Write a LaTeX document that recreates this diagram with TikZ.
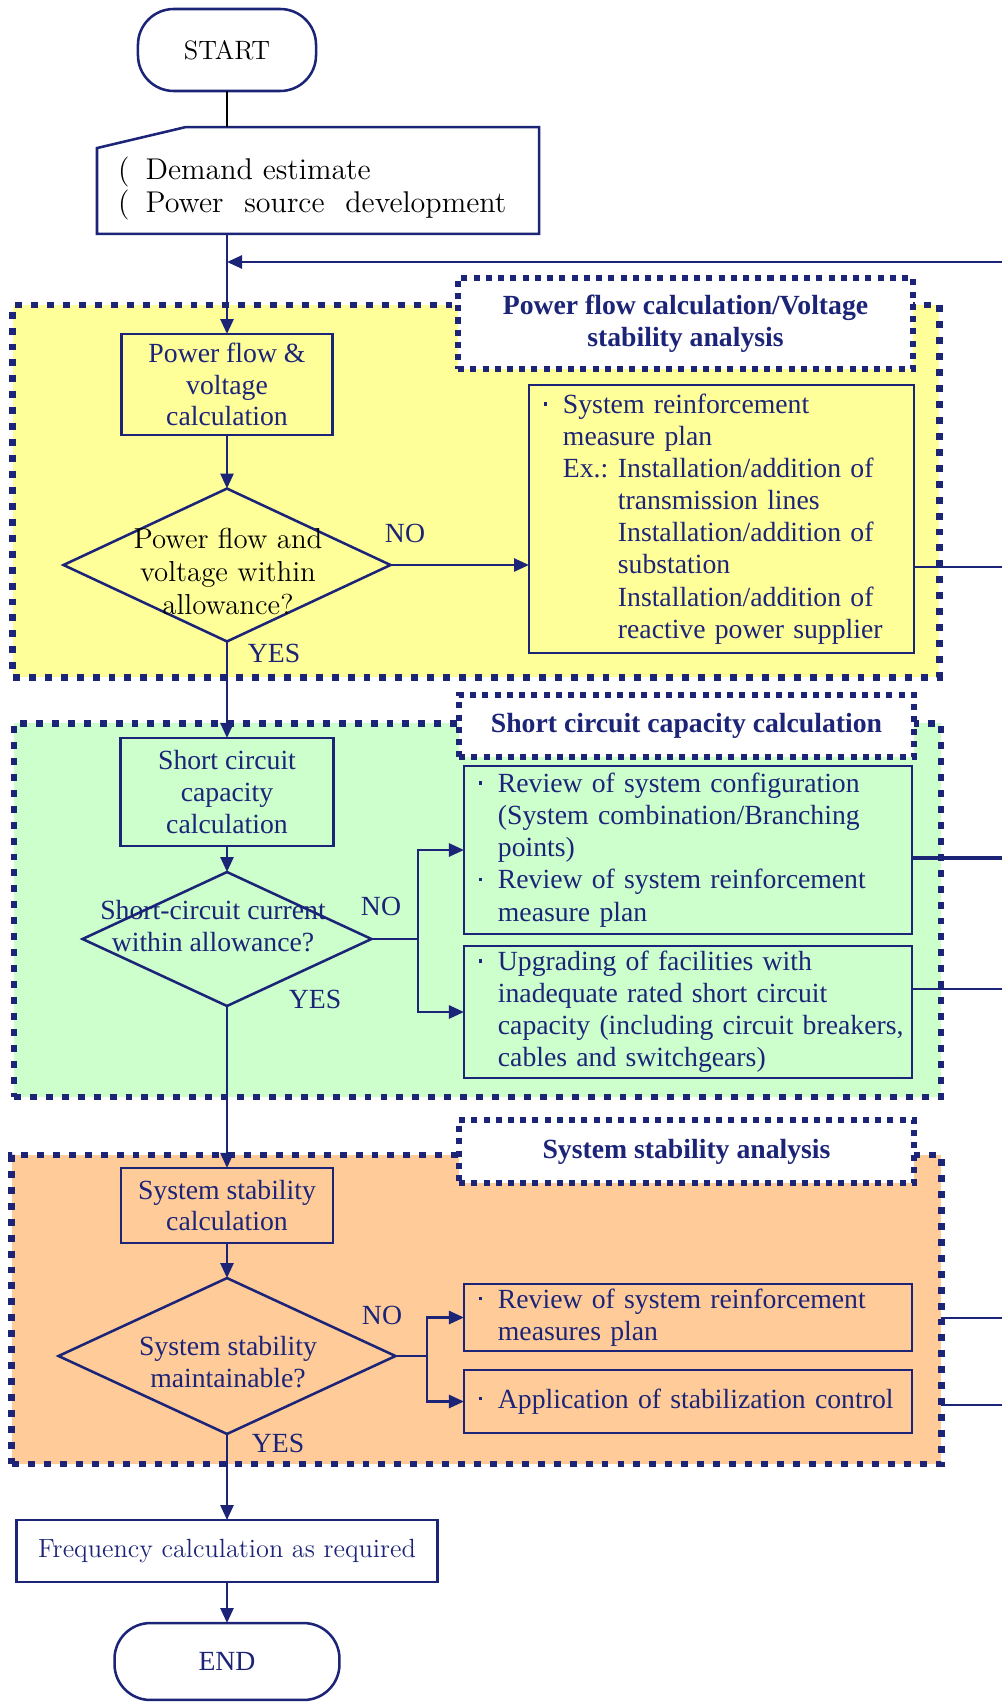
\documentclass[tikz,border=0pt]{standalone}
\usepackage{fontspec}
\newfontfamily\tnr{Liberation Serif}
\usetikzlibrary{shapes.geometric,arrows.meta}

\definecolor{navyline}{RGB}{28,36,120}
\definecolor{pfyellow}{RGB}{255,255,153}
\definecolor{scgreen}{RGB}{204,255,204}
\definecolor{ssorange}{RGB}{255,204,153}

\newcommand{\bul}{\makebox[8.2pt][l]{\raisebox{3.4pt}{\rule{1.5pt}{1.5pt}}}}
\newcommand{\ind}{\hspace*{8.2pt}}

\tikzset{
  every node/.style={inner sep=0pt, outer sep=0pt},
  zone/.style={rectangle, draw=navyline, line width=3pt, dash pattern=on 3pt off 3.9pt},
  titlebox/.style={rectangle, draw=navyline, fill=white, line width=2.6pt, dash pattern=on 2.6pt off 2.7pt,
    align=center, text=navyline, font=\tnr\bfseries\fontsize{12}{14}\selectfont},
  procbox/.style={rectangle, draw=navyline, line width=1.1pt, align=center, text=navyline,
    font=\tnr\fontsize{12}{13.8}\selectfont},
  notebox/.style={procbox, align=left, text width=181pt, minimum width=194pt,
    font=\tnr\fontsize{12}{13.9}\selectfont},
  decision/.style={diamond, draw=navyline, line width=1.1pt},
  terminal/.style={rectangle, draw=navyline, line width=1.1pt, rounded corners=15.5pt},
  flow/.style={draw=navyline, line width=1.2pt, -{Triangle[length=6.5pt,width=5.6pt]}},
  plain/.style={draw=navyline, line width=1.1pt},
  tag/.style={text=navyline, font=\tnr\fontsize{12}{13.8}\selectfont},
}

\begin{document}
\begin{tikzpicture}[x=0.433pt, y=-0.433pt]

\useasboundingbox (0,0) rectangle (1002,1702);

\node [zone, fill=pfyellow, minimum width=401pt, minimum height=161.1pt] (pfzone) at (476,491) {};
\node [zone, fill=scgreen, minimum width=401.4pt, minimum height=161.9pt] (sczone) at (477.5,910) {};
\node [zone, fill=ssorange, minimum width=402.3pt, minimum height=133.8pt] (sszone) at (476.5,1309.5) {};

\node [titlebox, minimum width=197pt, minimum height=39.4pt] (pftitle) at (685.5,323.5) {Power flow calculation/Voltage\\stability analysis};
\node [titlebox, minimum width=197pt, minimum height=26.8pt] (sctitle) at (686.5,726) {Short circuit capacity calculation};
\node [titlebox, minimum width=197pt, minimum height=27.3pt] (sstitle) at (686.5,1151.5) {System stability analysis};

\node [terminal, minimum width=77.1pt, minimum height=35.5pt, font=\fontsize{11.5}{13}\selectfont] (start) at (227,50) {START};

\node [minimum width=191.4pt, minimum height=46.3pt] (inp) at (318,180.5) {};
\draw [plain] (inp.south west) -- (inp.south east) -- (inp.north east) -- ([xshift=38.5pt]inp.north west) -- ([yshift=-9.1pt]inp.north west) -- cycle;
\node [anchor=west, align=left, font=\fontsize{13}{14.3}\selectfont] (inptext) at (118,188.5)
  {(\hspace{7pt}Demand estimate\\(\hspace{7pt}Power\hspace{9pt}source\hspace{9pt}development};

\node [procbox, minimum width=91.4pt, minimum height=43.7pt] (pf) at (227,384.5) {Power flow \&\\voltage\\calculation};
\node [decision, minimum width=141.6pt, minimum height=66.2pt] (d1) at (227,565) {};
\node [align=center, font=\fontsize{12.5}{14.3}\selectfont] (d1lab) at (228,571) {Power flow and\\voltage within\\allowance?};
\node [notebox, text width=153.7pt, minimum width=166.7pt, minimum height=116pt, fill=pfyellow] (meas) at (721.5,519)
  {\bul System reinforcement\\
   \ind measure plan\\
   \ind\makebox[23.8pt][l]{Ex.:}Installation/addition of\\
   \hspace*{32pt}transmission lines\\
   \hspace*{32pt}Installation/addition of\\
   \hspace*{32pt}substation\\
   \hspace*{32pt}Installation/addition of\\
   \hspace*{32pt}reactive power supplier};

\node [procbox, minimum width=92.2pt, minimum height=46.8pt] (sc) at (227,792) {Short circuit\\capacity\\calculation};
\node [decision, minimum width=125.1pt, minimum height=58pt] (d2) at (227,939) {};
\node [tag, align=center] (d2lab) at (213,926) {Short-circuit current\\within allowance?};
\node [notebox, minimum height=72.7pt, fill=scgreen] (cfg) at (688,850)
  {\bul Review of system configuration\\
   \ind (System combination/Branching\\
   \ind points)\\
   \bul Review of system reinforcement\\
   \ind measure plan};
\node [notebox, minimum height=57.2pt, fill=scgreen] (upg) at (688,1012)
  {\bul Upgrading of facilities with\\
   \ind inadequate rated short circuit\\
   \mbox{\ind capacity (including circuit breakers,}\\
   \ind cables and switchgears)};

\node [procbox, minimum width=91.8pt, minimum height=32.5pt] (ss) at (227,1205.5) {System stability\\calculation};
\node [decision, minimum width=145.9pt, minimum height=67.5pt] (d3) at (227,1356) {};
\node [tag, align=center] (d3lab) at (228,1362) {System stability\\maintainable?};
\node [notebox, minimum height=29pt, fill=ssorange] (revc) at (688,1317.5)
  {\bul Review of system reinforcement\\
   \ind measures plan};
\node [notebox, minimum height=27.3pt, fill=ssorange] (stab) at (688,1401.5)
  {\bul Application of stabilization control};

\node [procbox, minimum width=182.3pt, minimum height=26.8pt, font=\fontsize{11.4}{13}\selectfont] (freq) at (227,1551) {Frequency calculation as required};
\node [terminal, minimum width=97.4pt, minimum height=33.3pt, text=navyline, font=\tnr\fontsize{12}{13.8}\selectfont] (end) at (227,1661.5) {END};

\node [tag] (no1) at (405,533) {NO};
\node [tag] (yes1) at (274,653) {YES};
\node [tag] (no2) at (381,906) {NO};
\node [tag] (yes2) at (315,999) {YES};
\node [tag] (no3) at (382,1315) {NO};
\node [tag] (yes3) at (278,1443) {YES};

\coordinate (fbtop) at (1002,262);
\coordinate (out1) at (1002,567);
\coordinate (out2) at (1002,858);
\coordinate (out3) at (1002,989);
\coordinate (out4) at (1002,1318);
\coordinate (out5) at (1002,1405);
\coordinate (k2) at (418,939);
\coordinate (k3) at (427,1356);

\draw [line width=0.7pt] (start.south) -- (start.south |- inp.north);
\draw [flow] (pf.north |- inp.south) -- (pf.north);
\draw [flow] (fbtop) -- (fbtop -| pf.north);
\draw [flow] (pf.south) -- (d1.north);
\draw [flow] (d1.east) -- (d1.east -| meas.west);
\draw [flow] (d1.south) -- (sc.north);

\draw [flow] (sc.south) -- (d2.north);
\draw [plain] (d2.east) -- (k2);
\draw [flow] (k2) |- (cfg.west);
\draw [flow] (k2) |- (upg.west);
\draw [flow] (d2.south) -- (ss.north);

\draw [flow] (ss.south) -- (d3.north);
\draw [plain] (d3.east) -- (k3);
\draw [flow] (k3) |- (revc.west);
\draw [flow] (k3) |- (stab.west);
\draw [flow] (d3.south) -- (freq.north);
\draw [flow] (freq.south) -- (end.north);

\draw [plain] (out1 -| meas.east) -- (out1);
\draw [plain, line width=1.5pt] (out2 -| cfg.east) -- (out2);
\draw [plain] (out3 -| upg.east) -- (out3);
\draw [plain] (out4 -| sszone.east) -- (out4);
\draw [plain] (out5 -| sszone.east) -- (out5);

\end{tikzpicture}
\end{document}
